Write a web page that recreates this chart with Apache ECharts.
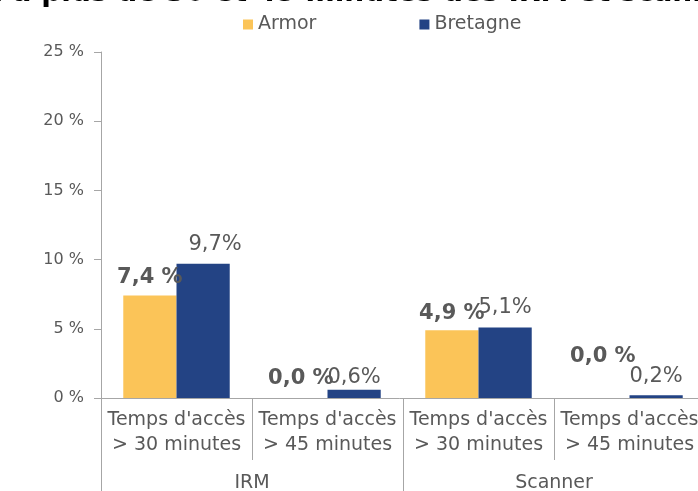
<!DOCTYPE html>
<html>
<head>
<meta charset="utf-8">
<script src="https://cdn.jsdelivr.net/npm/echarts@6/dist/echarts.min.js"></script>
<style>
  html, body { margin: 0; padding: 0; background: #fff; }
  #main { width: 698px; height: 491px; }
</style>
</head>
<body>
<div id="main"></div>
<script>
// données
var categories = ["Temps d'accès\n> 30 minutes", "Temps d'accès\n> 45 minutes", "Temps d'accès\n> 30 minutes", "Temps d'accès\n> 45 minutes"]
var groups = ['IRM', 'Scanner']
var armor = [7.4, 0.0, 4.9, 0.0]
var bretagne = [9.7, 0.6, 5.1, 0.2]

// décalages des étiquettes (style seulement)
var armorLabelOffset = [[0, -3], [0, -4], [0, -1], [0, -26]]
var bretagneLabelOffset = [[12, -4], [0, 3], [0, -4], [0, -3]]

var grey = '#595959'
var axisGrey = '#a6a6a6'
var font = '"DejaVu Sans"'

function fmt (v, sep) {
  return v.toFixed(1).replace('.', ',') + sep + '%'
}

var myChart = echarts.init(document.getElementById('main'))
var option = {
  animation: false,
  textStyle: { fontFamily: font },
  title: {
    text: "Part de la population à plus de 30 et 45 minutes des IRM et scanners les plus proches",
    left: 'center',
    top: -25,
    textStyle: { fontSize: 28, fontWeight: 'bold', color: '#000', fontFamily: font }
  },
  legend: {
    left: 238,
    top: 10,
    itemWidth: 10,
    itemHeight: 10,
    itemGap: 103,
    icon: 'rect',
    textStyle: { fontSize: 19, color: grey, fontFamily: font },
    data: ['Armor', 'Bretagne']
  },
  grid: { left: 101, top: 52, width: 604, bottom: 93, outerBoundsMode: 'none' },
  yAxis: {
    type: 'value',
    min: 0,
    max: 25,
    interval: 5,
    axisLine: { show: true, lineStyle: { color: axisGrey } },
    axisTick: { show: true, length: 7, lineStyle: { color: axisGrey } },
    splitLine: { show: false },
    axisLabel: { formatter: '{value} %', fontSize: 16, color: grey, margin: 17, fontFamily: font }
  },
  xAxis: [
    {
      type: 'category',
      data: categories,
      axisLine: { show: true, lineStyle: { color: axisGrey } },
      axisTick: { show: true, length: 62, interval: 0, lineStyle: { color: axisGrey } },
      axisLabel: { interval: 0, fontSize: 19, color: grey, lineHeight: 25, margin: 10, fontFamily: font }
    },
    {
      type: 'category',
      position: 'bottom',
      data: groups,
      axisLine: { show: false },
      axisTick: { show: true, length: 93, lineStyle: { color: axisGrey } },
      axisLabel: { fontSize: 19, color: grey, margin: 76, fontFamily: font }
    }
  ],
  series: [
    {
      name: 'Armor',
      type: 'bar',
      barGap: 0,
      barCategoryGap: '29.5%',
      itemStyle: { color: '#fbc458' },
      data: armor.map(function (v, i) {
        return {
          value: v,
          label: {
            show: true,
            position: 'top',
            offset: armorLabelOffset[i],
            formatter: fmt(v, ' '),
            fontSize: 21,
            fontWeight: 'bold',
            color: grey,
            fontFamily: font
          }
        }
      })
    },
    {
      name: 'Bretagne',
      type: 'bar',
      itemStyle: { color: '#234384' },
      data: bretagne.map(function (v, i) {
        return {
          value: v,
          label: {
            show: true,
            position: 'top',
            offset: bretagneLabelOffset[i],
            formatter: fmt(v, ''),
            fontSize: 21,
            color: grey,
            fontFamily: font
          }
        }
      })
    }
  ]
}
myChart.setOption(option)
</script>
</body>
</html>
